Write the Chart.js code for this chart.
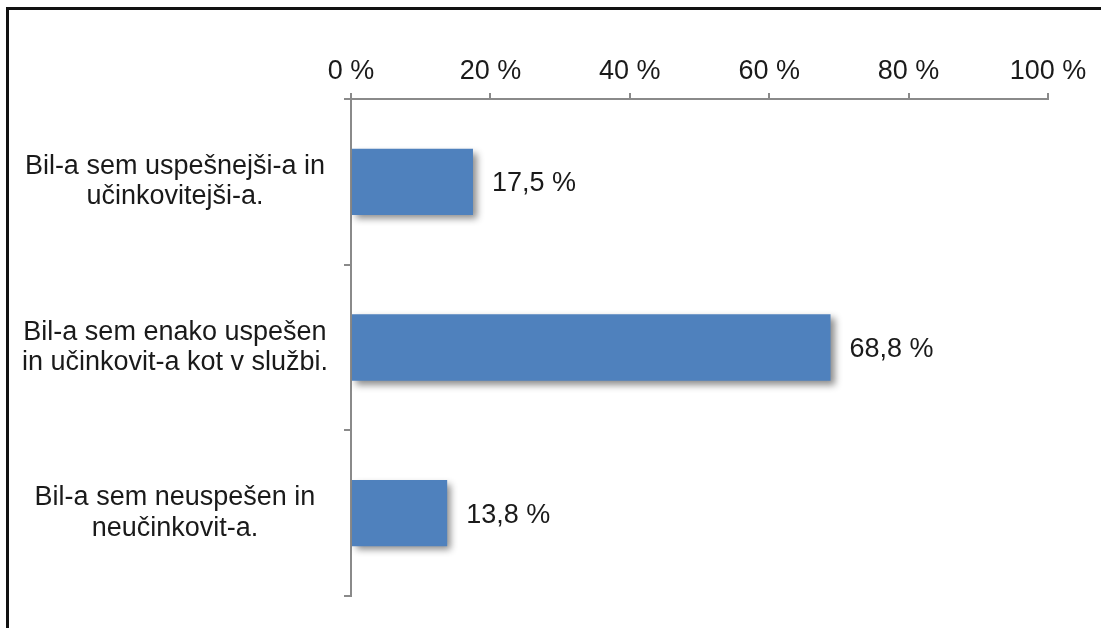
<!DOCTYPE html>
<html>
<head>
<meta charset="utf-8">
<script src="https://cdn.jsdelivr.net/npm/chart.js@4/dist/chart.umd.min.js"></script>
<style>
    html, body {
        margin: 0;
        padding: 0;
        background: #fff;
        overflow: hidden;
    }
    #frame {
        position: absolute;
        left: 6px;
        top: 7px;
        right: 0;
        bottom: 0;
        border-top: 3px solid #111;
        border-left: 3px solid #111;
    }
    #wrap {
        position: absolute;
        left: 0;
        top: 0;
        width: 1101px;
        height: 628px;
    }
</style>
</head>
<body>
<div id="frame"></div>
<div id="wrap"><canvas id="answers-chart"></canvas></div>
<script>
const answerLabels = [
    ['Bil-a sem uspešnejši-a in', 'učinkovitejši-a.'],
    ['Bil-a sem enako uspešen', 'in učinkovit-a kot v službi.'],
    ['Bil-a sem neuspešen in', 'neučinkovit-a.'],
];
const answerShares = [17.5, 68.8, 13.8];

const axisGrey = '#8a8a8a';
const textColor = '#1a1a1a';
const labelFont = { family: '"Liberation Sans", Arial, sans-serif', size: 27 };

function formatPercent(value) {
    return value.toFixed(1).replace('.', ',') + ' %';
}

// soft drop shadow under the bars
const barShadow = {
    id: 'barShadow',
    beforeDatasetsDraw(chart) {
        const ctx = chart.ctx;
        ctx.save();
        ctx.shadowColor = 'rgba(0, 0, 0, 0.45)';
        ctx.shadowBlur = 7;
        ctx.shadowOffsetX = 4;
        ctx.shadowOffsetY = 4;
    },
    afterDatasetsDraw(chart) {
        chart.ctx.restore();
    },
};

// value text to the right of each bar
const valueLabels = {
    id: 'valueLabels',
    afterDraw(chart) {
        const ctx = chart.ctx;
        const meta = chart.getDatasetMeta(0);
        ctx.save();
        ctx.font = `${labelFont.size}px ${labelFont.family}`;
        ctx.fillStyle = textColor;
        ctx.textAlign = 'left';
        ctx.textBaseline = 'middle';
        meta.data.forEach((bar, i) => {
            ctx.fillText(formatPercent(answerShares[i]), bar.x + 19, bar.y + 2);
        });
        ctx.restore();
    },
};

document.addEventListener('DOMContentLoaded', function () {
    const ctx = document.getElementById('answers-chart').getContext('2d');

    new Chart(ctx, {
        type: 'bar',
        data: {
            labels: answerLabels,
            datasets: [
                {
                    data: answerShares,
                    backgroundColor: '#4f81bd',
                    borderWidth: 0,
                    categoryPercentage: 0.8,
                    barPercentage: 0.5,
                },
            ],
        },
        options: {
            indexAxis: 'y',
            responsive: true,
            maintainAspectRatio: false,
            animation: false,
            layout: {
                padding: { top: 0, left: 0, right: 53, bottom: 32 },
            },
            plugins: {
                legend: { display: false },
                tooltip: { enabled: false },
            },
            scales: {
                x: {
                    position: 'top',
                    min: 0,
                    max: 100,
                    afterFit: scale => { scale.height = 99; },
                    border: { display: true, color: axisGrey, width: 2 },
                    grid: {
                        drawOnChartArea: false,
                        drawTicks: true,
                        tickLength: 6,
                        color: axisGrey,
                        lineWidth: 2,
                    },
                    ticks: {
                        stepSize: 20,
                        padding: 5,
                        maxRotation: 0,
                        color: textColor,
                        font: labelFont,
                        callback: value => value + ' %',
                    },
                },
                y: {
                    afterFit: scale => {
                        scale.width = 351;
                        // the two-line labels sit inside their bands, no overhang needed
                        scale.paddingTop = 0;
                        scale.paddingBottom = 0;
                    },
                    border: { display: true, color: axisGrey, width: 2 },
                    grid: {
                        offset: true,
                        drawOnChartArea: false,
                        drawTicks: true,
                        tickLength: 7,
                        color: axisGrey,
                        lineWidth: 2,
                    },
                    ticks: {
                        crossAlign: 'center',
                        padding: 16,
                        color: textColor,
                        font: { ...labelFont, lineHeight: 1.12 },
                    },
                },
            },
        },
        plugins: [barShadow, valueLabels],
    });
});
</script>
</body>
</html>
